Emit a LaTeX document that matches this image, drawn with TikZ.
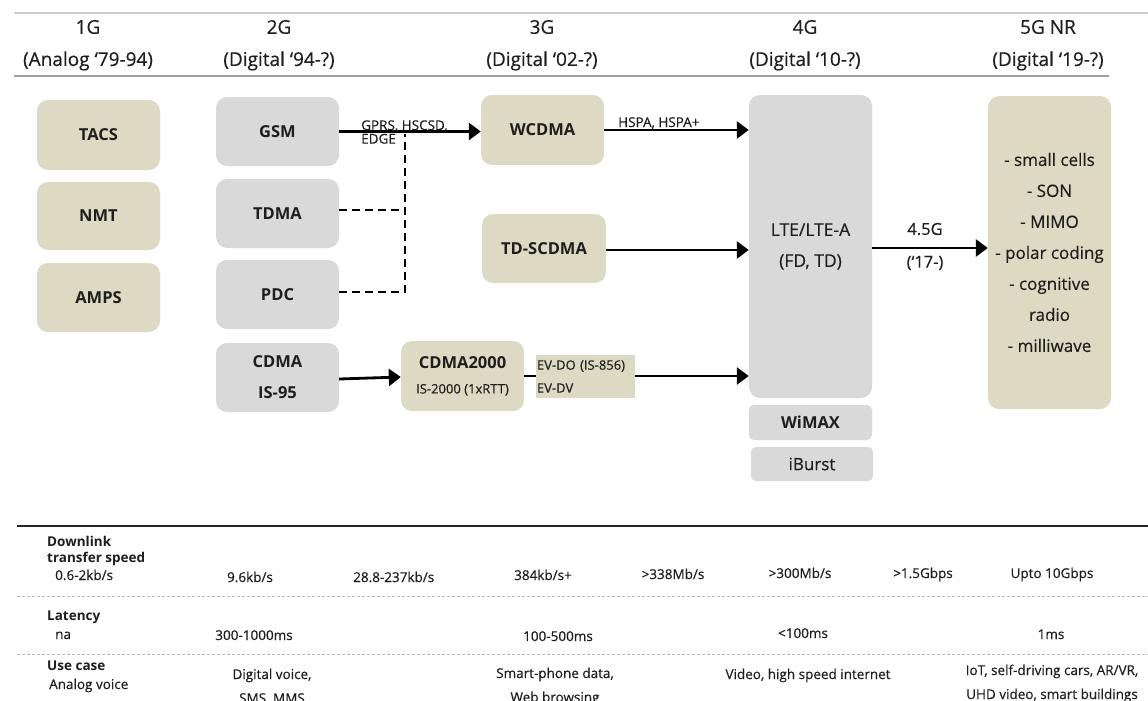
\documentclass[tikz,border=0pt]{standalone}
\usepackage{fontspec}
\setmainfont{Open Sans}[UprightFeatures={FakeBold=0.35}]
\usetikzlibrary{arrows.meta}
\definecolor{boxtan}{HTML}{DDD9C3}
\definecolor{boxgray}{HTML}{D9D9D9}
\definecolor{txt}{HTML}{1E1E1E}
\begin{document}
\begin{tikzpicture}[x=1pt,y=-1pt,
  every node/.style={text=txt},
  box/.style={rounded corners=11pt, inner sep=0pt, align=center, font=\bfseries\fontsize{16.5}{31}\selectfont},
  tanbox/.style={box, fill=boxtan},
  graybox/.style={box, fill=boxgray},
  hdr/.style={font=\fontsize{19}{20}\selectfont},
  arr/.style={line width=2.8pt, -{Triangle[length=12pt,width=17pt]}},
  dashline/.style={line width=2.3pt, dash pattern=on 8pt off 5pt},
  small/.style={font=\fontsize{13.5}{13.5}\selectfont, inner sep=0pt},
  tval/.style={font=\fontsize{13.5}{24}\selectfont, inner sep=0pt, anchor=base},
  thead/.style={font=\bfseries\fontsize{13.5}{16}\selectfont, inner sep=0pt, anchor=base west},
  sep/.style={gray!55, line width=0.9pt, dash pattern=on 3pt off 2pt}
]
\clip (0,0) rectangle (1148,701);
\fill[white] (0,0) rectangle (1148,701);

% header
\draw[gray!40, line width=2pt] (14,13) -- (1148,13);
\draw[gray!75, line width=2.5pt] (14,76) -- (1109,76);
\node[hdr] (h1) at (88,27) {1G};
\node[hdr] (h1b) at (88,61) {(Analog ‘79-94)};
\node[hdr] (h2) at (279,27) {2G};
\node[hdr] (h2b) at (279,61) {(Digital ‘94-?)};
\node[hdr] (h3) at (542,27) {3G};
\node[hdr] (h3b) at (542,61) {(Digital ‘02-?)};
\node[hdr] (h4) at (805,27) {4G};
\node[hdr] (h4b) at (805,61) {(Digital ‘10-?)};
\node[hdr] (h5) at (1048,27) {5G NR};
\node[hdr] (h5b) at (1048,61) {(Digital ‘19-?)};

% 1G
\node[tanbox, minimum width=123pt, minimum height=70pt] (tacs) at (98.5,135) {TACS};
\node[tanbox, minimum width=123pt, minimum height=68pt] (nmt) at (98.5,216) {NMT};
\node[tanbox, minimum width=123pt, minimum height=69pt] (amps) at (98.5,297.5) {AMPS};

% 2G
\node[graybox, minimum width=123pt, minimum height=69pt] (gsm) at (277.5,131.5) {GSM};
\node[graybox, minimum width=123pt, minimum height=69pt] (tdma) at (277.5,213.5) {TDMA};
\node[graybox, minimum width=123pt, minimum height=69pt] (pdc) at (277.5,294.5) {PDC};
\node[graybox, minimum width=123pt, minimum height=69pt] (cdma) at (277.5,377.5) {CDMA\\IS-95};

% 3G
\node[tanbox, minimum width=123pt, minimum height=70pt] (wcdma) at (542.5,130) {WCDMA};
\node[tanbox, minimum width=124pt, minimum height=69pt] (tdscdma) at (544,248.5) {TD-SCDMA};
\node[tanbox, minimum width=123pt, minimum height=70pt, font=\bfseries\fontsize{16.5}{25}\selectfont] (cdma2k) at (462.5,376) {CDMA2000\\{\mdseries\fontsize{13}{13}\selectfont IS-2000 (1xRTT)}};

% 4G
\node[graybox, minimum width=123pt, minimum height=303pt, font=\fontsize{17.5}{31}\selectfont] (lte) at (810.5,246.5) {LTE/LTE-A\\(FD, TD)};
\node[graybox, rounded corners=5pt, minimum width=123pt, minimum height=35pt] (wimax) at (810.5,422.5) {WiMAX};
\node[graybox, rounded corners=5pt, minimum width=122pt, minimum height=34pt, font=\fontsize{17}{18}\selectfont] (iburst) at (812,464) {iBurst};

% 5G
\node[tanbox, minimum width=123pt, minimum height=313pt, font=\fontsize{17}{31}\selectfont] (g5) at (1049.5,252.5)
  {- small cells\\- SON\\- MIMO\\- polar coding\\- cognitive\\radio\\- milliwave};

% connectors
\coordinate (jt) at (405,134);
\draw[dashline] (pdc.east |- 0,292) -| (jt);
\draw[dashline] (tdma.east |- 0,210) -- (405,210);
\draw[arr] (gsm.east) -- (gsm.east -| wcdma.west);
\node[small, anchor=west, align=left] (gprs) at (361,132) {GPRS, HSCSD,\\EDGE};
\draw[arr] (wcdma.east) -- (wcdma.east -| lte.west);
\node[small, anchor=west] (hspa) at (618,123) {HSPA, HSPA+};
\draw[arr] (tdscdma.east |- 0,250) -- (lte.west |- 0,250);
\draw[arr] (cdma.east |- 0,379) -- (cdma2k.west |- 0,377);
\draw[arr] (cdma2k.east) -- (cdma2k.east -| lte.west);
\node[fill=boxtan, minimum width=99pt, minimum height=43pt, text width=97pt, inner sep=1pt, align=left,
  font=\fontsize{13}{23}\selectfont] (ev) at (585.5,376.5) {EV-DO (IS-856)\\EV-DV};
\draw[arr] (lte.east |- 0,248) -- (g5.west |- 0,248);
\node[font=\fontsize{16.5}{18}\selectfont] (l45) at (925,229) {4.5G};
\node[font=\fontsize{16.5}{18}\selectfont] (l17) at (925,263) {(‘17-)};

% table
\draw[black!85, line width=2.6pt] (17,526) -- (1148,526);
\draw[sep] (17,596) -- (1148,596);
\draw[sep] (17,654) -- (1148,654);

\node[thead] (dl1) at (47,546) {Downlink};
\node[thead] (dl2) at (47,562) {transfer speed};
\node[tval, anchor=base west] (s1) at (55,580) {0.6-2kb/s};
\node[tval] (s2) at (250,582) {9.6kb/s};
\node[tval, anchor=base west] (s3) at (353,582) {28.8-237kb/s};
\node[tval] (s4) at (543,580) {384kb/s+};
\node[tval] (s5) at (673,579) {>338Mb/s};
\node[tval] (s6) at (800,578) {>300Mb/s};
\node[tval] (s7) at (923,578) {>1.5Gbps};
\node[tval] (s8) at (1052,578) {Upto 10Gbps};

\node[thead] (lat) at (47,620) {Latency};
\node[tval, anchor=base west] (l1) at (55,639) {na};
\node[tval] (l2) at (254,640) {300-1000ms};
\node[tval] (l3) at (558,641) {100-500ms};
\node[tval] (l4) at (803,638) {<100ms};
\node[tval] (l5) at (1051,639) {1ms};

\node[thead] (uc) at (47,670) {Use case};
\node[tval, anchor=base west] (u1) at (49,689) {Analog voice};
\node[tval] (u2a) at (272,679) {Digital voice,};
\node[tval] (u2b) at (272,703) {SMS, MMS};
\node[tval] (u3a) at (555,678) {Smart-phone data,};
\node[tval] (u3b) at (555,702) {Web browsing};
\node[tval] (u4) at (808,679) {Video, high speed internet};
\node[tval] (u5a) at (1052,675) {IoT, self-driving cars, AR/VR,};
\node[tval] (u5b) at (1052,699) {UHD video, smart buildings};
\end{tikzpicture}
\end{document}
